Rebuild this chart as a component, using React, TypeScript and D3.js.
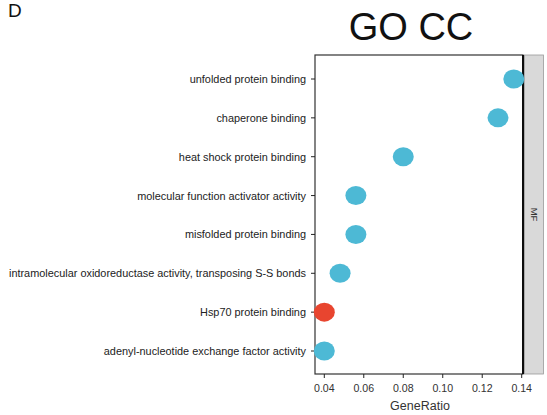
import React from "react";
import * as d3 from "d3";

const terms = [
  "unfolded protein binding",
  "chaperone binding",
  "heat shock protein binding",
  "molecular function activator activity",
  "misfolded protein binding",
  "intramolecular oxidoreductase activity, transposing S-S bonds",
  "Hsp70 protein binding",
  "adenyl-nucleotide exchange factor activity",
];
const geneRatio = [0.136, 0.128, 0.08, 0.056, 0.056, 0.048, 0.04, 0.04];
const highlighted = [false, false, false, false, false, false, true, false];
const xTicks = [0.04, 0.06, 0.08, 0.1, 0.12, 0.14];
const facetLabel = "MF";

const W = 547;
const H = 415;
const panel = { left: 315, right: 523, top: 55, bottom: 374 };
const font = "'Liberation Sans', Arial, sans-serif";

export default function App() {
  const x = d3.scaleLinear().domain([0.04, 0.14]).range([324.3, 521.7]);
  const y = d3
    .scalePoint<string>()
    .domain(terms)
    .range([79, 351]);

  return (
    <svg
      width={W}
      height={H}
      style={{ position: "absolute", left: 0, top: 0, background: "#fff" }}
      fontFamily={font}
    >
      <text x={8} y={17} fontSize={19} fill="#111">D</text>
      <text x={411} y={40} fontSize={38} textAnchor="middle" fill="#111">GO CC</text>

      {/* panel */}
      <rect
        x={panel.left}
        y={panel.top}
        width={panel.right - panel.left}
        height={panel.bottom - panel.top}
        fill="#fff"
        stroke="#333"
        strokeWidth={1.2}
      />
      <line
        x1={panel.right}
        x2={panel.right}
        y1={panel.top}
        y2={panel.bottom}
        stroke="#000"
        strokeWidth={1.8}
      />

      {/* facet strip */}
      <rect
        x={panel.right + 1.5}
        y={panel.top}
        width={19}
        height={panel.bottom - panel.top}
        fill="#d9d9d9"
        stroke="#999"
        strokeWidth={0.8}
      />
      <text
        transform={`translate(${panel.right + 11}, ${(panel.top + panel.bottom) / 2}) rotate(90)`}
        fontSize={9.5}
        textAnchor="middle"
        dominantBaseline="central"
        fill="#333"
      >
        {facetLabel}
      </text>

      {/* y axis */}
      {terms.map((t) => (
        <g key={t}>
          <line x1={panel.left - 4} x2={panel.left} y1={y(t)} y2={y(t)} stroke="#222" />
          <text
            x={panel.left - 9}
            y={y(t)!}
            fontSize={10.9}
            textAnchor="end"
            dominantBaseline="central"
            fill="#222"
          >
            {t}
          </text>
        </g>
      ))}

      {/* x axis */}
      {xTicks.map((v) => (
        <g key={v}>
          <line x1={x(v)} x2={x(v)} y1={panel.bottom} y2={panel.bottom + 4} stroke="#222" />
          <text
            x={x(v)}
            y={panel.bottom + 14}
            fontSize={10.6}
            textAnchor="middle"
            dominantBaseline="central"
            fill="#333"
          >
            {d3.format(".2f")(v)}
          </text>
        </g>
      ))}
      <text x={420} y={406} fontSize={12.5} textAnchor="middle" dominantBaseline="central" fill="#333">
        GeneRatio
      </text>

      {/* points */}
      {terms.map((t, i) => (
        <ellipse
          key={t}
          cx={x(geneRatio[i])}
          cy={y(t)}
          rx={10.5}
          ry={9.5}
          fill={highlighted[i] ? "#e8452f" : "#4db9d5"}
        />
      ))}
    </svg>
  );
}
